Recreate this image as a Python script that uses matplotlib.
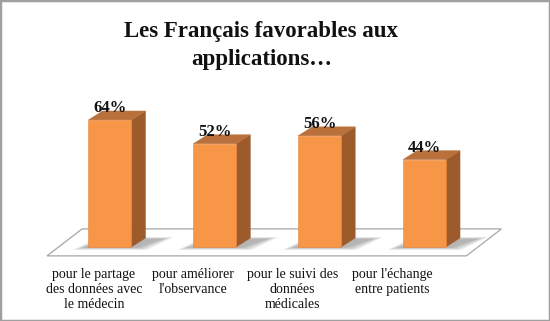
import matplotlib
matplotlib.use("Agg")
import matplotlib.pyplot as plt
from matplotlib.patches import Polygon

categories = ["pour le partage\ndes données avec\nle médecin",
              "pour améliorer\nl'observance",
              "pour le suivi des\ndonnées\nmédicales",
              "pour l'échange\nentre patients"]
values = [64, 52, 56, 44]
value_labels = ["64%", "52%", "56%", "44%"]
title = "Les Français favorables aux\napplications…"

front_col = "#F79646"
top_col = "#B9703A"
side_col = "#9D5B2B"

plt.rcParams["font.family"] = ["Liberation Serif", "DejaVu Serif"]

fig = plt.figure(figsize=(5.5, 3.21), dpi=100)
ax = fig.add_axes([0, 0, 1, 1])
ax.set_xlim(-1.049, 4.197)
ax.set_ylim(-37.3, 124.4)
ax.set_xticks([])
ax.set_yticks([])
for s in ax.spines.values():
    s.set_color("#a0a0a0")
    s.set_linewidth(2.5)

w = 0.41
dx, dy = 0.134, 4.5
fdx, fdy = 0.334, 13.6

# floor
floor = Polygon([(-0.6, -4.5), (3.4, -4.5), (3.4 + fdx, -4.5 + fdy), (-0.6 + fdx, -4.5 + fdy)],
                closed=True, facecolor="white", edgecolor="#a6a6a6", lw=0.9, zorder=1)
ax.add_patch(floor)

xs = list(range(len(values)))

# soft shadows behind bars
for x in xs:
    for k in range(6):
        grow = k * 0.02
        sh = Polygon([(x - w / 2 - 0.05 - grow, -0.3 - grow * 12),
                      (x + w / 2 + 0.05 + grow, -0.3 - grow * 12),
                      (x + w / 2 + 0.3 + grow, 4.0 + grow * 10),
                      (x - w / 2 + 0.2 - grow, 4.0 + grow * 10)],
                     closed=True, facecolor="#666666", edgecolor="none", alpha=0.1, zorder=2)
        ax.add_patch(sh)

ax.bar(xs, values, width=w, color=front_col, edgecolor="#e8853a", linewidth=0.4, zorder=4)

for x, v in zip(xs, values):
    r = x + w / 2
    l = x - w / 2
    side = Polygon([(r, 0), (r + dx, dy), (r + dx, v + dy), (r, v)],
                   closed=True, facecolor=side_col, edgecolor=side_col, lw=0.3, zorder=3)
    top = Polygon([(l, v), (r, v), (r + dx, v + dy), (l + dx, v + dy)],
                  closed=True, facecolor=top_col, edgecolor=top_col, lw=0.3, zorder=4)
    ax.add_patch(side)
    ax.add_patch(top)

for x, v, lab in zip(xs, values, value_labels):
    ax.text(x, v + 4.0, lab, ha="center", va="baseline", fontsize=12,
            fontweight="bold", color="#111111", zorder=6)

# category labels sit slightly left of the bars, as in the original
for x, c in zip(xs, categories):
    ax.text(x * 0.948 - 0.153, -10.8, c, ha="center", va="top", fontsize=10,
            color="#111111", linespacing=1.2)

fig.text(0.475, 0.935, title, ha="center", va="top", fontsize=16.5,
         fontweight="bold", color="#111111", linespacing=1.45)

fig.savefig("out.png", dpi=100)
